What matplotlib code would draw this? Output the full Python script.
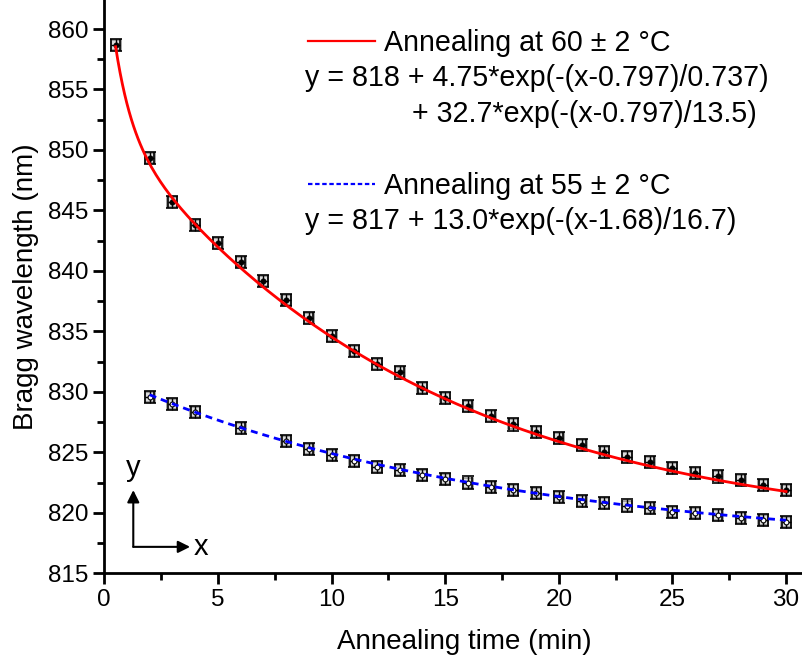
import numpy as np
import matplotlib
matplotlib.use("Agg")
import matplotlib.pyplot as plt
from matplotlib.lines import Line2D

plt.rcParams["font.family"] = ["Liberation Sans", "DejaVu Sans"]

# annealing at 60 C
time_60 = [0.5, 2, 3, 4, 5, 6, 7, 8, 9, 10, 11, 12, 13, 14, 15, 16, 17, 18, 19, 20,
           21, 22, 23, 24, 25, 26, 27, 28, 29, 30]
bragg_60 = [858.7, 849.3, 845.7, 843.8, 842.3, 840.7, 839.2, 837.6, 836.1, 834.6,
            833.4, 832.3, 831.6, 830.3, 829.5, 828.8, 828.0, 827.3, 826.7, 826.2,
            825.6, 825.0, 824.6, 824.2, 823.7, 823.3, 823.0, 822.7, 822.3, 821.9]

# annealing at 55 C
time_55 = [2, 3, 4, 6, 8, 9, 10, 11, 12, 13, 14, 15, 16, 17, 18, 19, 20, 21, 22,
           23, 24, 25, 26, 27, 28, 29, 30]
bragg_55 = [829.6, 829.0, 828.3, 827.0, 825.9, 825.3, 824.8, 824.3, 823.8, 823.5,
            823.1, 822.8, 822.5, 822.1, 821.9, 821.6, 821.3, 821.0, 820.8, 820.6,
            820.4, 820.1, 820.0, 819.8, 819.6, 819.4, 819.2]

y_err = 0.5
x_err = 0.2

# fit parameters printed on the chart
fit_60 = dict(y0=818, a1=4.75, t1=0.737, a2=32.7, t2=13.5, x0=0.797)
fit_55 = dict(y0=817, a1=13.0, t1=16.7, x0=1.68)

label_60 = "Annealing at 60 \u00b1 2 \u00b0C"
label_55 = "Annealing at 55 \u00b1 2 \u00b0C"
eq_60a = "y = 818 + 4.75*exp(-(x-0.797)/0.737)"
eq_60b = "+ 32.7*exp(-(x-0.797)/13.5)"
eq_55 = "y = 817 + 13.0*exp(-(x-1.68)/16.7)"

fig = plt.figure(figsize=(8.02, 6.65), dpi=100)
ax = fig.add_axes([0.130, 0.138, 0.870, 0.862])

# data points with error bars
for xv, yv, face in [(time_60, bragg_60, "black"), (time_55, bragg_55, "white")]:
    ax.plot(xv, yv, ls="none", marker="s", ms=6.5, mfc="#dcdcdc", mec="#8a8a8a",
            mew=1.1, zorder=2)
    ax.errorbar(xv, yv, yerr=y_err, xerr=x_err, fmt="none", ecolor="black",
                elinewidth=1.0, capsize=4, capthick=1.2, zorder=3)
    ax.plot(xv, yv, ls="none", marker="o", ms=3.5, mfc=face, mec="black",
            mew=0.8, zorder=3)

# fit curves, drawn over the points
xs60 = np.linspace(time_60[0], time_60[-1], 300)
f = fit_60
ys60 = (f["y0"] + f["a1"] * np.exp(-(xs60 - f["x0"]) / f["t1"])
        + f["a2"] * np.exp(-(xs60 - f["x0"]) / f["t2"]))
xs55 = np.linspace(time_55[0], time_55[-1], 300)
f = fit_55
ys55 = f["y0"] + f["a1"] * np.exp(-(xs55 - f["x0"]) / f["t1"])

ax.plot(xs60, ys60, color="red", lw=2.0, zorder=4)
ax.plot(xs55, ys55, color="blue", lw=2.0, ls=(0, (2.5, 1.8)), zorder=4)

ax.set_xlim(0, 30.7)
ax.set_ylim(815, 862.4)
ax.set_xticks(np.arange(0, 31, 5))
ax.set_xticks(np.arange(2.5, 31, 5), minor=True)
ax.set_yticks(np.arange(815, 861, 5))
ax.set_yticks(np.arange(817.5, 861, 5), minor=True)

for side in ["top", "right"]:
    ax.spines[side].set_visible(False)
for side in ["left", "bottom"]:
    ax.spines[side].set_linewidth(2)

ax.tick_params(which="major", direction="out", length=8, width=2, labelsize=17.5)
ax.tick_params(which="minor", direction="out", length=5, width=2)

ax.set_xlabel("Annealing time (min)", fontsize=20)
ax.set_ylabel("Bragg wavelength (nm)", fontsize=20, labelpad=6)
ax.xaxis.set_label_coords(0.516, -0.097)

# legend-like annotations
h60 = Line2D([], [], color="red", lw=1.6)
h55 = Line2D([], [], color="blue", lw=1.6, ls=(0, (2, 1.2)))
leg_kw = dict(loc="center left", frameon=False, fontsize=20.6, handlelength=2.35,
              handletextpad=0.3, borderaxespad=0, borderpad=0)
leg1 = ax.legend([h60], [label_60], bbox_to_anchor=(0.292, 0.925), **leg_kw)
ax.add_artist(leg1)
ax.legend([h55], [label_55], bbox_to_anchor=(0.292, 0.675), **leg_kw)

ax.text(0.288, 0.864, eq_60a, transform=ax.transAxes, fontsize=20.6, va="center")
ax.text(0.441, 0.801, eq_60b, transform=ax.transAxes, fontsize=20.6, va="center")
ax.text(0.288, 0.614, eq_55, transform=ax.transAxes, fontsize=20.6, va="center")

# axis direction sketch
ax.annotate("", xy=(0.0416, 0.145), xytext=(0.0416, 0.046), xycoords="axes fraction",
            arrowprops=dict(arrowstyle="-|>", color="black", lw=1.5,
                            mutation_scale=18, shrinkA=0, shrinkB=0))
ax.annotate("", xy=(0.123, 0.046), xytext=(0.0416, 0.046), xycoords="axes fraction",
            arrowprops=dict(arrowstyle="-|>", color="black", lw=1.5,
                            mutation_scale=18, shrinkA=0, shrinkB=0))
ax.text(0.0416, 0.183, "y", transform=ax.transAxes, fontsize=21, ha="center", va="center")
ax.text(0.128, 0.046, "x", transform=ax.transAxes, fontsize=21, ha="left", va="center")

fig.savefig("out.png", dpi=100)
